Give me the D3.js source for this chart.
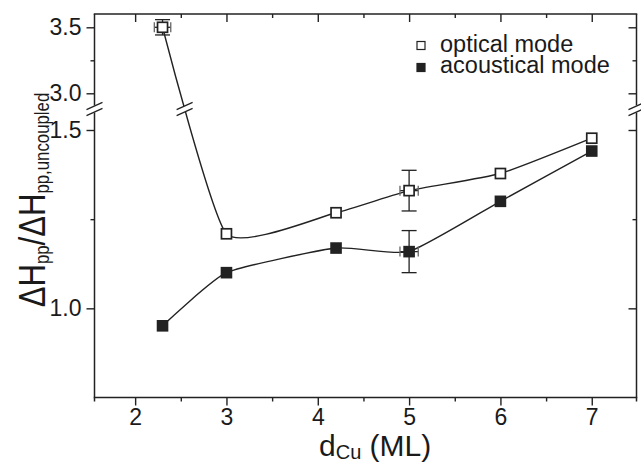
<!DOCTYPE html>
<html><head><meta charset="utf-8">
<script src="https://cdn.jsdelivr.net/npm/d3@7"></script>
<style>
body{margin:0;background:#fff}
text{font-family:"Liberation Sans",Arial,sans-serif;fill:#1a1a1a}
</style>
</head><body>
<svg id="chart" width="641" height="463"></svg>
<script>
// Cu spacer thickness (ML)
const thickness = [2.3, 3, 4.2, 5, 6, 7];
// normalised linewidth ΔHpp/ΔHpp,uncoupled
const optical    = [3.50, 1.209, 1.268, 1.330, 1.378, 1.477];
const acoustical = [0.951, 1.100, 1.169, 1.159, 1.300, 1.441];
// error bars: index into thickness, x half-width, y half-width
const opticalErr    = [{i: 0, dx: 0.09, dy: 0.058}, {i: 3, dx: 0.10, dy: 0.057}];
const acousticalErr = [{i: 3, dx: 0.10, dy: 0.059}];
// ticks
const xMajor = [2, 3, 4, 5, 6, 7];
const xMinor = [2.5, 3.5, 4.5, 5.5, 6.5];
const yLowMajor = [1.0, 1.5], yLowMinor = [1.25];
const yHighMajor = [3.0, 3.5], yHighMinor = [3.25];
const legendItems = ["optical mode", "acoustical mode"];

const svg = d3.select("#chart");
const L = 94.5, R = 636.5, T = 14, B = 397.5, BRK = 109;

const x = d3.scaleLinear().domain([1.555, 7.49]).range([L, R]);
// broken y axis: lower and upper segments
const yLow = d3.scaleLinear().domain([0.75, 1.5]).range([B, 130]);
const yHigh = d3.scaleLinear().domain([3.0, 3.5]).range([93.3, 27.3]);
const y = v => v > 2 ? yHigh(v) : yLow(v);

const ink = "#222";

// frame lines
const frame = svg.append("g").attr("stroke", ink).attr("stroke-width", 1.5).attr("fill", "none");
frame.append("line").attr("x1", L - 0.75).attr("x2", R + 0.75).attr("y1", T).attr("y2", T);
frame.append("line").attr("x1", L - 0.75).attr("x2", R + 0.75).attr("y1", B).attr("y2", B);
[L, R].forEach(xx => {
  frame.append("line").attr("x1", xx).attr("x2", xx).attr("y1", T).attr("y2", BRK - 3.5);
  frame.append("line").attr("x1", xx).attr("x2", xx).attr("y1", BRK + 3.5).attr("y2", B + 4);
});

function styleAxis(g) {
  g.select(".domain").remove();
  g.selectAll(".tick line").attr("stroke", ink).attr("stroke-width", 1.4);
  g.selectAll(".tick text").attr("fill", "#1a1a1a").style("font-size", "23px")
    .style("font-family", '"Liberation Sans",Arial,sans-serif');
}
const fmt = d3.format(".1f");

// bottom axis (outward) and top axis (inward)
svg.append("g").attr("transform", `translate(0,${B})`)
  .call(d3.axisBottom(x).tickValues(xMajor).tickSize(8).tickPadding(3).tickFormat(d3.format("d"))).call(styleAxis);
svg.append("g").attr("transform", `translate(0,${B})`)
  .call(d3.axisBottom(x).tickValues(xMinor).tickSize(4).tickFormat("")).call(styleAxis);
svg.append("g").attr("transform", `translate(0,${T})`)
  .call(d3.axisBottom(x).tickValues(xMajor).tickSize(8).tickFormat("")).call(styleAxis);
svg.append("g").attr("transform", `translate(0,${T})`)
  .call(d3.axisBottom(x).tickValues(xMinor).tickSize(4).tickFormat("")).call(styleAxis);

// left axis (outward) and right axis (inward), both segments
[[yLow, yLowMajor, yLowMinor], [yHigh, yHighMajor, yHighMinor]].forEach(([sc, maj, min]) => {
  svg.append("g").attr("transform", `translate(${L},0)`)
    .call(d3.axisLeft(sc).tickValues(maj).tickSize(8).tickPadding(5).tickFormat(fmt)).call(styleAxis);
  svg.append("g").attr("transform", `translate(${L},0)`)
    .call(d3.axisLeft(sc).tickValues(min).tickSize(4).tickFormat("")).call(styleAxis);
  svg.append("g").attr("transform", `translate(${R},0)`)
    .call(d3.axisLeft(sc).tickValues(maj).tickSize(8).tickFormat("")).call(styleAxis);
  svg.append("g").attr("transform", `translate(${R},0)`)
    .call(d3.axisLeft(sc).tickValues(min).tickSize(4).tickFormat("")).call(styleAxis);
});

// double-slash break symbol centred on (cx, cy)
function breakMark(cx, cy) {
  const hw = 8, sl = 3.6, gap = 3;
  const g = svg.append("g");
  g.append("path")
    .attr("d", `M${cx - hw},${cy + sl - gap}L${cx + hw},${cy - sl - gap}L${cx + hw},${cy - sl + gap}L${cx - hw},${cy + sl + gap}Z`)
    .attr("fill", "#fff");
  [-gap, gap].forEach(o => g.append("line")
    .attr("x1", cx - hw).attr("y1", cy + sl + o).attr("x2", cx + hw).attr("y2", cy - sl + o)
    .attr("stroke", ink).attr("stroke-width", 1.3));
}

// data curves
const line = d3.line().curve(d3.curveCardinal.tension(0.5));
function series(vals) { return thickness.map((t, i) => [x(t), y(vals[i])]); }

const curves = svg.append("g").attr("fill", "none").attr("stroke", ink).attr("stroke-width", 1.4);
const optPath = curves.append("path").attr("d", line(series(optical)));
curves.append("path").attr("d", line(series(acoustical)));

// locate where the optical curve crosses the axis break
(function () {
  const node = optPath.node(), len = node.getTotalLength();
  let lo = 0, hi = len;
  for (let k = 0; k < 40; k++) {
    const mid = (lo + hi) / 2;
    if (node.getPointAtLength(mid).y < BRK) lo = mid; else hi = mid;
  }
  const p = node.getPointAtLength(lo);
  breakMark(p.x, p.y);
})();
breakMark(L, BRK);
breakMark(R, BRK);

// error bars
function errorBars(errs, vals) {
  const g = svg.append("g").attr("stroke", ink).attr("stroke-width", 1.3);
  errs.forEach(e => {
    const cx = x(thickness[e.i]), v = vals[e.i];
    const y1 = y(v + e.dy), y2 = y(v - e.dy), x1 = x(thickness[e.i] - e.dx), x2 = x(thickness[e.i] + e.dx);
    g.append("line").attr("x1", cx).attr("x2", cx).attr("y1", y1).attr("y2", y2);
    g.append("line").attr("x1", cx - 7.5).attr("x2", cx + 7.5).attr("y1", y1).attr("y2", y1);
    g.append("line").attr("x1", cx - 7.5).attr("x2", cx + 7.5).attr("y1", y2).attr("y2", y2);
    g.append("line").attr("x1", x1).attr("x2", x2).attr("y1", y(v)).attr("y2", y(v));
    g.append("line").attr("x1", x1).attr("x2", x1).attr("y1", y(v) - 5).attr("y2", y(v) + 5).attr("stroke", "#666");
    g.append("line").attr("x1", x2).attr("x2", x2).attr("y1", y(v) - 5).attr("y2", y(v) + 5).attr("stroke", "#666");
  });
}
errorBars(opticalErr, optical);
errorBars(acousticalErr, acoustical);

// markers
const S = 10;
svg.append("g").selectAll("rect").data(series(optical)).join("rect")
  .attr("x", d => d[0] - S / 2).attr("y", d => d[1] - S / 2).attr("width", S).attr("height", S)
  .attr("fill", "#fff").attr("stroke", ink).attr("stroke-width", 1.7);
svg.append("g").selectAll("rect").data(series(acoustical)).join("rect")
  .attr("x", d => d[0] - S / 2 - 0.8).attr("y", d => d[1] - S / 2 - 0.8).attr("width", S + 1.6).attr("height", S + 1.6)
  .attr("fill", ink);

// legend
const lg = svg.append("g");
legendItems.forEach((name, i) => {
  const cy = 45.5 + i * 22, s = 8;
  if (i === 0) lg.append("rect").attr("x", 421 - s / 2).attr("y", cy - s / 2).attr("width", s).attr("height", s)
    .attr("fill", "#fff").attr("stroke", ink).attr("stroke-width", 1.2);
  else lg.append("rect").attr("x", 421 - s / 2 - 0.6).attr("y", cy - s / 2 - 0.6).attr("width", s + 1.2).attr("height", s + 1.2)
    .attr("fill", ink);
  lg.append("text").attr("x", 440).attr("y", 52.3 + i * 20.6).style("font-size", "23.5px").text(name);
});

// axis titles
const xt = svg.append("text").attr("x", 319).attr("y", 456).style("font-size", "30px");
xt.append("tspan").text("d");
xt.append("tspan").attr("dy", 3).style("font-size", "20px").text("Cu");
xt.append("tspan").attr("dy", -3).text(" (ML)");

const yt = svg.append("text").attr("transform", "translate(45,200) rotate(-90) scale(0.84,1)").attr("text-anchor", "middle")
  .style("font-size", "37px");
yt.append("tspan").text("ΔH");
yt.append("tspan").attr("dy", 4).style("font-size", "20px").text("pp");
yt.append("tspan").attr("dy", -4).text("/ΔH");
yt.append("tspan").attr("dy", 4).style("font-size", "20px").text("pp,uncoupled");
</script>
</body></html>
